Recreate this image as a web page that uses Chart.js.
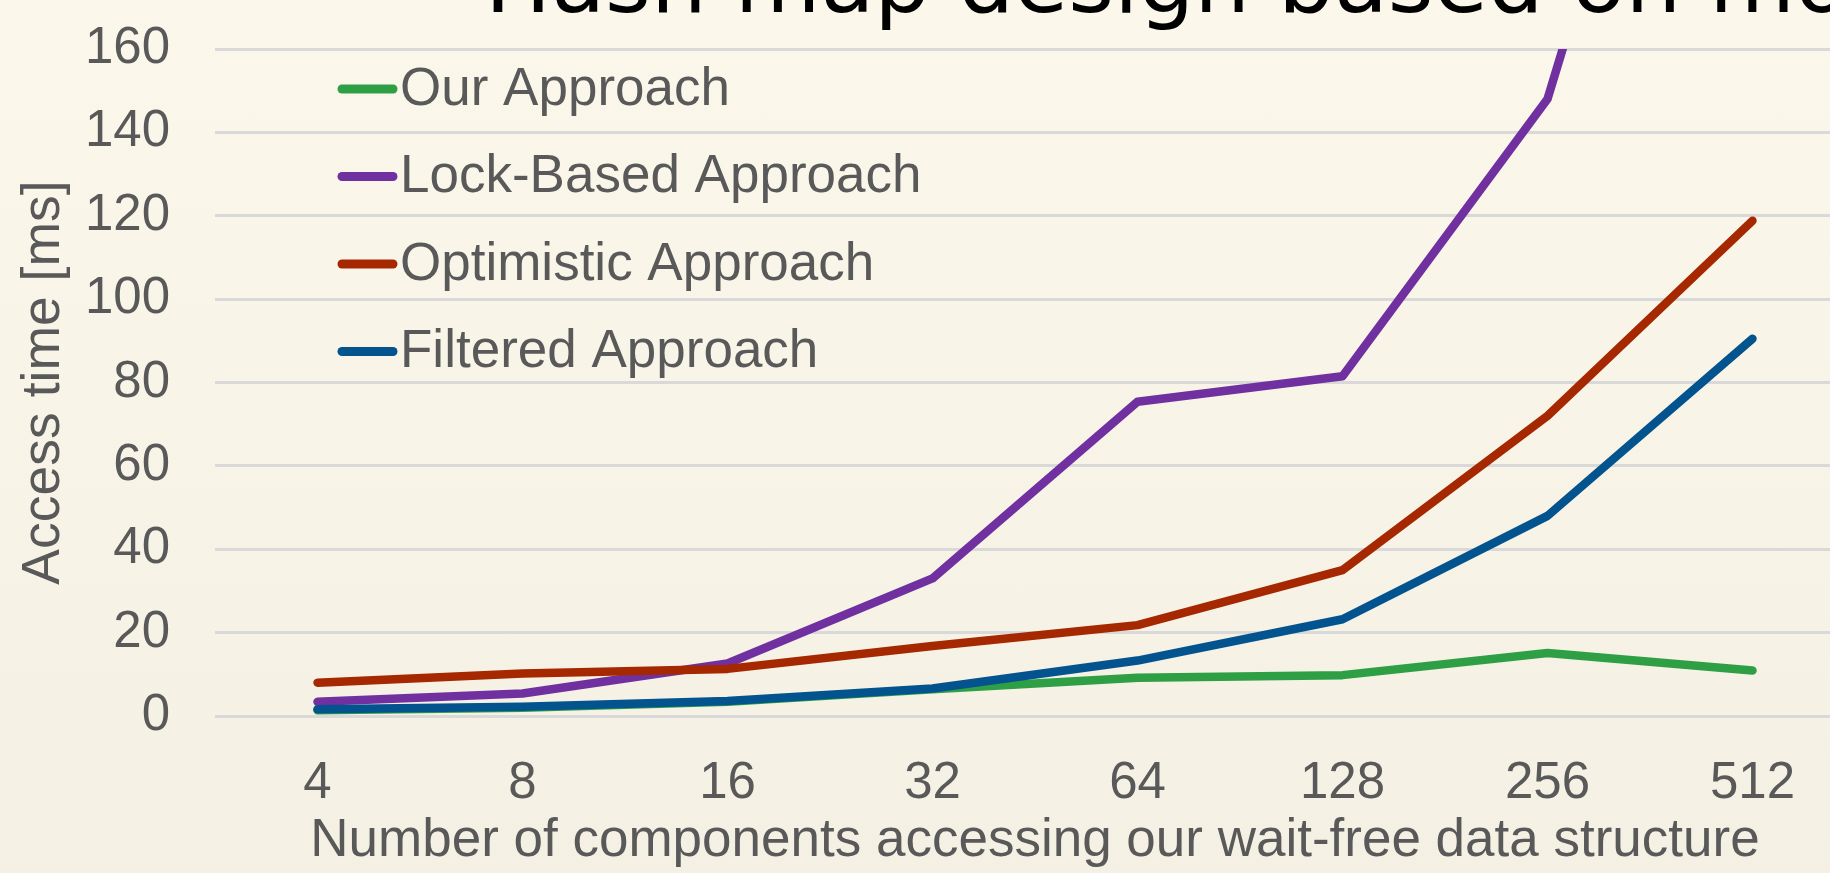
<!DOCTYPE html>
<html>
<head>
<meta charset="utf-8">
<title>Access time</title>
<script src="https://cdn.jsdelivr.net/npm/chart.js@4.4.0/dist/chart.umd.min.js"></script>
<style>
  html, body {
    margin: 0;
    padding: 0;
    width: 1830px;
    height: 873px;
    overflow: hidden;
    background: linear-gradient(#fbf8eb, #f4f0e4);
  }
  #wrap {
    position: relative;
    width: 1870px;
    height: 873px;
  }
</style>
</head>
<body>
<div id="wrap">
  <canvas id="accessChart" width="1870" height="873"></canvas>
</div>
<script>
// Datos
const categories = ['4', '8', '16', '32', '64', '128', '256', '512'];
const ourApproach = [1.4, 2.0, 3.4, 6.4, 9.2, 9.8, 15.1, 10.9];
const lockBased = [3.4, 5.4, 12.6, 33.0, 75.4, 81.5, 148.0, 310.0];
const optimistic = [8.0, 10.2, 11.3, 16.8, 21.8, 35.0, 72.0, 118.8];
const filtered = [1.6, 2.2, 3.6, 6.6, 13.3, 23.2, 48.0, 90.5];

const seriesNames = ['Our Approach', 'Lock-Based Approach', 'Optimistic Approach', 'Filtered Approach'];
const seriesColors = ['#2e9f45', '#7030a0', '#a62800', '#02538e'];

const slideTitle = 'Hash map design based on mo';
const yTitle = 'Access time [ms]';
const xTitle = 'Number of components accessing our wait-free data structure';

const textColor = '#595959';
const fontFamily = '"Liberation Sans", Arial, sans-serif';

// título de la diapositiva, cortado arriba como en la imagen
const slideTitlePlugin = {
  id: 'slideTitle',
  afterDraw(chart) {
    const ctx = chart.ctx;
    ctx.save();
    ctx.font = '88px "DejaVu Sans", sans-serif';
    ctx.fillStyle = '#000000';
    ctx.textAlign = 'left';
    ctx.textBaseline = 'alphabetic';
    ctx.fillText(slideTitle, 485, 12);
    ctx.restore();
  }
};

// leyenda dentro del área del gráfico, en columna
const insideLegendPlugin = {
  id: 'insideLegend',
  afterDatasetsDraw(chart) {
    const ctx = chart.ctx;
    const area = chart.chartArea;
    const x0 = area.left + 122;
    const y0 = area.top + 40;
    ctx.save();
    ctx.font = '53px ' + fontFamily;
    ctx.textBaseline = 'middle';
    ctx.textAlign = 'left';
    chart.data.datasets.forEach((ds, i) => {
      const y = y0 + i * 87.5;
      ctx.strokeStyle = ds.borderColor;
      ctx.lineWidth = 9;
      ctx.lineCap = 'round';
      ctx.beginPath();
      ctx.moveTo(x0 + 5, y);
      ctx.lineTo(x0 + 56, y);
      ctx.stroke();
      ctx.fillStyle = textColor;
      ctx.fillText(ds.label, x0 + 63, y + 1);
    });
    ctx.restore();
  }
};

const seriesValues = [ourApproach, lockBased, optimistic, filtered];

const datasets = seriesValues.map((values, i) => ({
  label: seriesNames[i],
  data: values,
  borderColor: seriesColors[i],
  backgroundColor: seriesColors[i],
  borderWidth: 8.5,
  borderCapStyle: 'round',
  borderJoinStyle: 'round',
  pointRadius: 0,
  tension: 0,
  clip: 0,
  order: seriesValues.length - 1 - i
}));

new Chart(document.getElementById('accessChart'), {
  type: 'line',
  data: {
    labels: categories,
    datasets: datasets
  },
  options: {
    responsive: false,
    animation: false,
    layout: {
      padding: { left: 0, top: 49, right: 15, bottom: 0 }
    },
    plugins: {
      legend: { display: false },
      tooltip: { enabled: false }
    },
    scales: {
      x: {
        offset: true,
        grid: { display: false, drawTicks: false },
        border: { display: false },
        ticks: {
          color: textColor,
          font: { family: fontFamily, size: 51, lineHeight: 1 },
          padding: 42,
          maxRotation: 0
        },
        title: {
          display: true,
          text: xTitle,
          color: textColor,
          font: { family: fontFamily, size: 53, lineHeight: 1.2 },
          padding: { top: 0, bottom: 0 }
        },
        afterFit(scale) {
          scale.height = 157;
        }
      },
      y: {
        min: 0,
        max: 160,
        grid: { color: '#d9d9d9', lineWidth: 3, drawTicks: false },
        border: { display: false },
        ticks: {
          stepSize: 20,
          color: textColor,
          font: { family: fontFamily, size: 51 },
          padding: 45
        },
        title: {
          display: true,
          text: yTitle,
          color: textColor,
          font: { family: fontFamily, size: 53.5, lineHeight: 1.2 },
          padding: { top: 12, bottom: 0 }
        },
        afterFit(scale) {
          scale.width = 215;
          scale.paddingTop = 0;
          scale.paddingBottom = 0;
        }
      }
    }
  },
  plugins: [slideTitlePlugin, insideLegendPlugin]
});
</script>
</body>
</html>
